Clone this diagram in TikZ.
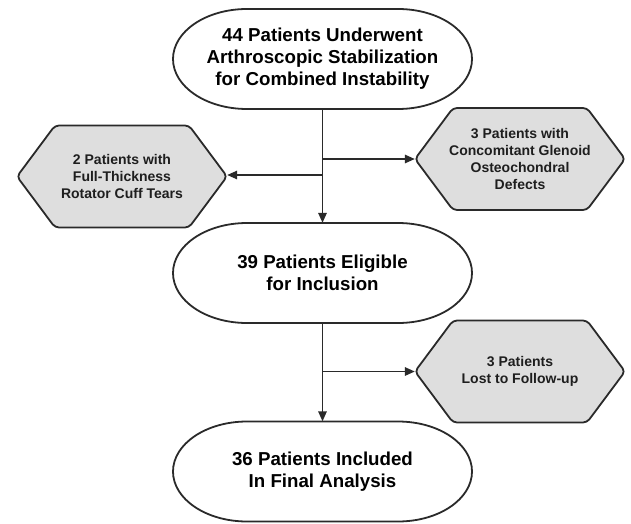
\documentclass[tikz,border=0pt]{standalone}
\usepackage{fontspec}
\setmainfont{Liberation Sans}
\usetikzlibrary{arrows.meta}
\definecolor{hexfill}{HTML}{DEDEDE}
\definecolor{edge}{HTML}{2A2A2A}
\definecolor{hextxt}{HTML}{1E1E1E}
\tikzset{
  boxtext/.style={rectangle, inner sep=0pt, align=center, minimum width=299pt, minimum height=100pt,
    font=\fontsize{18.7}{22}\selectfont\bfseries, text=black},
  hextext/.style={rectangle, inner sep=0pt, align=center, minimum width=210pt, minimum height=102pt,
    font=\fontsize{14}{17.3}\selectfont\bfseries, text=hextxt},
  outline/.style={draw=edge, line width=1.8pt, fill=white},
  hexline/.style={draw=edge, line width=1.8pt, fill=hexfill, rounded corners=4pt},
  conn/.style={draw=edge, line width=1.5pt},
  arr/.style={conn, -{Triangle[length=10pt,width=8.5pt]}}
}
\newcommand\stadiumat[2]{%
  \draw[outline, shift={(#1,#2)}] (-75.5,50) -- (75.5,50)
    arc[start angle=90, end angle=-90, x radius=74, y radius=50]
    -- (-75.5,-50)
    arc[start angle=270, end angle=90, x radius=74, y radius=50] -- cycle;}
\newcommand\hexat[2]{%
  \draw[hexline, shift={(#1,#2)}] (-105,0) -- (-67,51) -- (67,51) -- (105,0) -- (67,-51) -- (-67,-51) -- cycle;}
\begin{document}
\begin{tikzpicture}[x=1pt,y=1pt]
\useasboundingbox (0,0) rectangle (631,523);
% shapes
\stadiumat{322.5}{464}
\stadiumat{322.5}{250}
\stadiumat{322.5}{51.5}
\hexat{122}{346.5}
\hexat{520}{364}
\hexat{520}{151.5}
% text nodes
\node[boxtext] (a) at (322.5,464) {44 Patients Underwent\\Arthroscopic Stabilization\\for Combined Instability};
\node[boxtext] (b) at (322.5,250) {39 Patients Eligible\\for Inclusion};
\node[boxtext] (c) at (322.5,51.5) {36 Patients Included\\In Final Analysis};
\node[hextext] (h0) at (122,346.5) {2 Patients with\\Full-Thickness\\Rotator Cuff Tears};
\node[hextext] (h1) at (520,364) {3 Patients with\\Concomitant Glenoid\\Osteochondral\\Defects};
\node[hextext] (h2) at (520,151.5) {3 Patients\\Lost to Follow-up};
% connectors
\draw[arr] (a.south) -- (b.north);
\draw[arr] (a.south |- h1.west) -- (h1.west);
\draw[arr] (a.south |- 0,348) -- (h0.east |- 0,348);
\draw[arr] (b.south) -- (c.north);
\draw[arr] (b.south |- h2.west) -- (h2.west);
\end{tikzpicture}
\end{document}
